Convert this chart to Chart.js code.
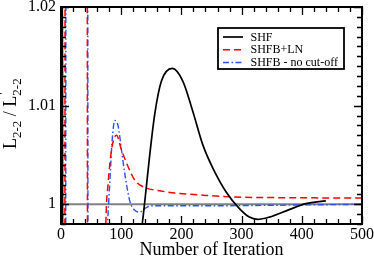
<!DOCTYPE html>
<html>
<head>
<meta charset="utf-8">
<script src="https://cdn.jsdelivr.net/npm/chart.js@4.4.0/dist/chart.umd.min.js"></script>
<style>
  html, body { margin: 0; padding: 0; background: #fff; }
</style>
</head>
<body>
<canvas id="chart" width="374" height="263"></canvas>
<script>
// values (iteration, L/L')
var shfX = [0, 2.3, 2.7, 130, 135.3, 139.1, 147.4, 155.6, 166.7, 184.9, 202.5, 219, 235.6, 252.2, 274.3, 296.4, 312.9, 326.7, 346, 379, 406.8, 440];
var shfY = [1.024, 1.024, 0.996, 0.996, 0.99819, 1.00023, 1.005, 1.0091, 1.01247, 1.01377, 1.01247, 1.00941, 1.00602, 1.00367, 1.00125, 0.99956, 0.9987, 0.99847, 0.9987, 0.99946, 1.00007, 1.00034];

var lnX = [0, 6.4, 6.8, 43.6, 44.0, 74, 74.5, 78.3, 83.9, 89, 92.2, 100.5, 111.5, 122.5, 139, 160, 197, 240, 280, 350, 420, 500];
var lnY = [0.996, 0.996, 1.024, 1.024, 0.996, 0.996, 0.998, 1.0021, 1.0055, 1.0068, 1.0070, 1.0055, 1.0038, 1.00245, 1.0017, 1.0014, 1.0011, 1.0009, 1.00075, 1.00068, 1.00065, 1.00063];

var nocutX = [0, 7.8, 8.2, 44.4, 44.8, 76, 77.3, 81, 85, 89.4, 95, 100.5, 106, 114, 122.5, 131, 140, 150, 170, 250, 350, 430, 500];
var nocutY = [0.996, 0.996, 1.024, 1.024, 0.996, 0.996, 0.998, 1.0021, 1.0065, 1.0085, 1.0079, 1.0055, 1.0031, 1.0004, 0.99939, 0.99921, 0.9996, 0.99985, 0.99985, 0.99985, 0.9999, 0.99995, 1.0];

var refX = [0, 500];
var refY = [1, 1];

var xTicks = [0, 100, 200, 300, 400, 500];
var yTicks = [1, 1.01, 1.02];
var seriesNames = ["SHF", "SHFB+LN", "SHFB - no cut-off"];

var serif = "'Liberation Serif', 'Times New Roman', serif";

function pts(xs, ys) {
    return xs.map(function (x, i) { return {x: x, y: ys[i]}; });
}

// frame, inward ticks, legend box and y title
var decor = {
    id: 'decor',
    afterDraw: function (chart) {
        var ctx = chart.ctx;
        var a = chart.chartArea;
        var xs = chart.scales.x, ys = chart.scales.y;
        ctx.save();
        ctx.strokeStyle = '#000';
        ctx.lineWidth = 1.3;
        ctx.beginPath();
        var v, px, py, len;
        for (v = 0; v <= 500; v += 20) {
            px = Math.round(xs.getPixelForValue(v)) + 0.5;
            len = (v % 100 === 0) ? 8 : 5;
            ctx.moveTo(px, a.bottom); ctx.lineTo(px, a.bottom - len);
            ctx.moveTo(px, a.top); ctx.lineTo(px, a.top + len);
        }
        for (var k = 0; k <= 22; k++) {
            v = 0.998 + k * 0.001;
            py = Math.round(ys.getPixelForValue(v)) + 0.5;
            len = ((k - 2) % 10 === 0) ? 8 : 5;
            ctx.moveTo(a.left, py); ctx.lineTo(a.left + len, py);
            ctx.moveTo(a.right, py); ctx.lineTo(a.right - len, py);
        }
        ctx.stroke();
        ctx.lineWidth = 2;
        ctx.strokeRect(a.left, a.top, a.right - a.left, a.bottom - a.top);

        // legend
        var lx = 218, ly = 28, lw = 126, lh = 41;
        ctx.fillStyle = '#fff';
        ctx.fillRect(lx, ly, lw, lh);
        ctx.lineWidth = 1.8;
        ctx.strokeRect(lx, ly, lw, lh);
        var ds = chart.data.datasets;
        var rows = [37, 49.7, 62.5];
        for (var i = 0; i < 3; i++) {
            ctx.beginPath();
            ctx.strokeStyle = ds[i].borderColor;
            ctx.lineWidth = ds[i].borderWidth;
            ctx.setLineDash(ds[i].borderDash || []);
            ctx.moveTo(223, rows[i]); ctx.lineTo(243, rows[i]);
            ctx.stroke();
            ctx.setLineDash([]);
            ctx.fillStyle = '#000';
            ctx.font = "12px " + serif;
            ctx.textBaseline = 'middle';
            ctx.textAlign = 'left';
            ctx.fillText(seriesNames[i], 250.5, rows[i] + 0.5);
        }

        // y title: L_{2-2} / L'_{2-2}
        ctx.translate(16, 112);
        ctx.rotate(-Math.PI / 2);
        ctx.fillStyle = '#000';
        ctx.textBaseline = 'alphabetic';
        var x0 = -37;
        var big = "18px " + serif, small = "13px " + serif;
        ctx.font = big; ctx.fillText("L", x0, 0); x0 += ctx.measureText("L").width;
        ctx.font = small; ctx.fillText("2-2", x0, 5); x0 += ctx.measureText("2-2").width;
        ctx.font = big; ctx.fillText(" / ", x0, 0); x0 += ctx.measureText(" / ").width;
        ctx.fillText("L", x0, 0); x0 += ctx.measureText("L").width;
        ctx.font = small; ctx.fillText("'", x0 + 1, -9); ctx.fillText("2-2", x0, 5);
        ctx.restore();
    }
};

var config = {
    type: 'line',
    data: {
        datasets: [{
            label: seriesNames[0],
            data: pts(shfX, shfY),
            borderColor: '#000000',
            borderWidth: 1.7
        }, {
            label: seriesNames[1],
            data: pts(lnX, lnY),
            borderColor: '#ff0000',
            borderWidth: 1.5,
            borderDash: [7, 4]
        }, {
            label: seriesNames[2],
            data: pts(nocutX, nocutY),
            borderColor: 'rgb(40,80,255)',
            borderWidth: 1.4,
            borderDash: [6, 2.5, 1.5, 2.5]
        }, {
            label: 'ref',
            data: pts(refX, refY),
            borderColor: '#808080',
            borderWidth: 2
        }]
    },
    options: {
        responsive: false,
        animation: false,
        devicePixelRatio: 1,
        layout: {padding: {left: 0, right: 12, top: 7, bottom: 0}},
        elements: {
            point: {radius: 0},
            line: {cubicInterpolationMode: 'monotone', fill: false}
        },
        plugins: {legend: {display: false}, tooltip: {enabled: false}},
        scales: {
            x: {
                type: 'linear',
                min: 0, max: 500,
                grid: {display: false, drawTicks: false},
                border: {display: false},
                afterBuildTicks: function (s) { s.ticks = xTicks.map(function (v) { return {value: v}; }); },
                afterFit: function (s) { s.height = 39; s.paddingLeft = 0; s.paddingRight = 0; },
                ticks: {color: '#000', font: {family: serif, size: 16}, padding: 1, maxRotation: 0},
                title: {display: true, text: 'Number of Iteration', color: '#000',
                        font: {family: serif, size: 18}, padding: {top: 0, bottom: 2}}
            },
            y: {
                type: 'linear',
                min: 0.998, max: 1.02,
                grid: {display: false, drawTicks: false},
                border: {display: false},
                afterBuildTicks: function (s) { s.ticks = yTicks.map(function (v) { return {value: v}; }); },
                afterFit: function (s) { s.width = 61; s.paddingTop = 0; s.paddingBottom = 0; },
                ticks: {color: '#000', font: {family: serif, size: 16}, padding: 5,
                        callback: function (v) { return v === 1 ? '1' : v.toFixed(2); }}
            }
        }
    },
    plugins: [decor]
};

var chart = new Chart(document.getElementById('chart').getContext('2d'), config);
</script>
</body>
</html>
